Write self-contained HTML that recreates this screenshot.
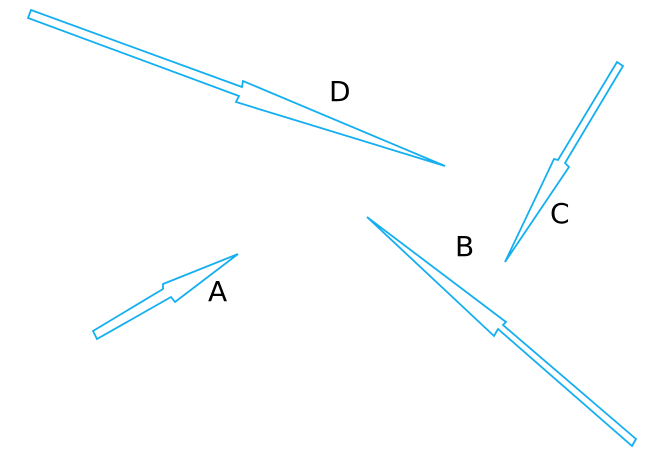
<!DOCTYPE html>
<html><head><meta charset="utf-8"><style>
html,body{margin:0;padding:0;background:#fff;width:657px;height:466px;overflow:hidden}
</style></head><body>
<svg width="657" height="466" viewBox="0 0 657 466" xmlns="http://www.w3.org/2000/svg">
<g fill="none" stroke="#13aff0" stroke-width="1.8" stroke-linejoin="miter">
<polygon points="31,10 242,87 243,81 445,166 236,102 239,96 28,18"/>
<polygon points="617,62 623,66 565,163 569,167 505,262 554,159 558,160"/>
<polygon points="367,217 506,322 503,325 636,439 632,446 498,329 494,336"/>
<polygon points="93,331 163,289 163,284 238,254 175,302 171,297 97,339"/>
</g>
<g font-family="'DejaVu Sans','Liberation Sans',sans-serif" font-size="28" fill="#000">
<text x="329" y="101">D</text>
<text x="455" y="256">B</text>
<text x="550" y="223">C</text>
<text x="208" y="301">A</text>
</g>
</svg>
</body></html>
